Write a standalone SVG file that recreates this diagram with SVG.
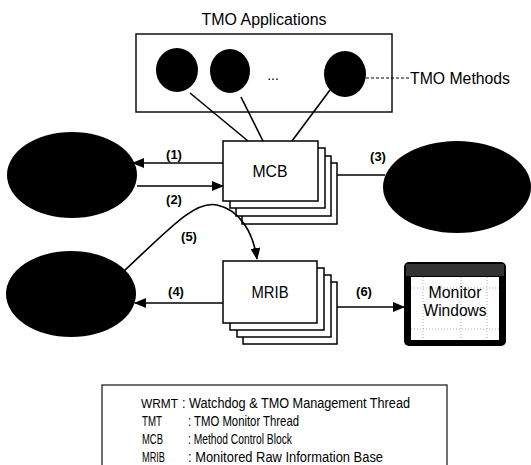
<svg xmlns="http://www.w3.org/2000/svg" width="531" height="465" viewBox="0 0 531 465">
<style>
text{font-family:"Liberation Sans",Arial,sans-serif;fill:#000}
.box{fill:#fff;stroke:#000;stroke-width:1.5}
.ln{fill:none;stroke:#000;stroke-width:1.6}
.lbl{font-size:13px;font-weight:bold}
.leg{font-size:14px}
.blob{fill:#000}
</style>
<defs>
<marker id="ah" markerUnits="userSpaceOnUse" markerWidth="12" markerHeight="10" refX="11" refY="5" orient="auto">
<path d="M0,0 L12,5 L0,10 Z" fill="#000"/>
</marker>
</defs>

<g id="title"><text x="264" y="25" font-size="16" text-anchor="middle" textLength="125" lengthAdjust="spacingAndGlyphs">TMO Applications</text></g>

<g id="tmo-apps">
<rect x="136" y="34" width="256" height="78" fill="#fff" stroke="#111" stroke-width="1.5"/>
<ellipse cx="177" cy="70" rx="21" ry="22" class="blob"/>
<ellipse cx="230" cy="71" rx="20" ry="22" class="blob"/>
<text x="273" y="80" font-size="14" text-anchor="middle">...</text>
<ellipse cx="345" cy="74" rx="21" ry="23" class="blob"/>
</g>

<g id="tmo-methods-label">
<line x1="366" y1="78" x2="409" y2="78" stroke="#000" stroke-width="1.2" stroke-dasharray="3,2"/>
<text x="410" y="84" font-size="16" textLength="100" lengthAdjust="spacingAndGlyphs">TMO Methods</text>
</g>

<g id="wrmt"><ellipse cx="72" cy="175" rx="65" ry="43" class="blob"/></g>
<g id="tmt"><ellipse cx="457" cy="187" rx="74" ry="46" class="blob"/></g>
<g id="client"><ellipse cx="71" cy="294" rx="65" ry="43" class="blob"/></g>

<g id="mcb">
<rect x="242" y="163" width="95" height="61" class="box"/>
<rect x="236" y="156" width="95" height="60" class="box"/>
<rect x="230" y="148" width="95" height="60" class="box"/>
<rect x="223" y="141" width="95" height="60" class="box"/>
<text x="270" y="177" font-size="16" text-anchor="middle" textLength="35" lengthAdjust="spacingAndGlyphs">MCB</text>
</g>

<g id="mrib">
<rect x="243" y="282" width="94" height="62" class="box"/>
<rect x="237" y="275" width="94" height="62" class="box"/>
<rect x="230" y="268" width="94" height="62" class="box"/>
<rect x="223" y="261" width="94" height="62" class="box"/>
<text x="270" y="298" font-size="16" text-anchor="middle" textLength="37" lengthAdjust="spacingAndGlyphs">MRIB</text>
</g>

<g id="monitor-windows">
<rect x="404" y="262" width="102" height="84" rx="5" fill="#000"/>
<rect x="406" y="264" width="98" height="12" fill="#333"/>
<rect x="411" y="277" width="88" height="63" fill="#fff"/>
<g stroke="#999" stroke-width="0.8" stroke-dasharray="1,2">
<line x1="423" y1="277" x2="423" y2="340"/>
<line x1="461" y1="277" x2="461" y2="340"/>
<line x1="487" y1="277" x2="487" y2="340"/>
<line x1="411" y1="288" x2="499" y2="288"/>
<line x1="411" y1="329" x2="499" y2="329"/>
</g>
<text x="455" y="298" font-size="17" text-anchor="middle" textLength="53" lengthAdjust="spacingAndGlyphs">Monitor</text>
<text x="455" y="316" font-size="17" text-anchor="middle" textLength="63" lengthAdjust="spacingAndGlyphs">Windows</text>
</g>

<g id="connectors">
<line x1="190" y1="93" x2="248" y2="141" class="ln"/>
<line x1="241" y1="97" x2="263" y2="141" class="ln"/>
<line x1="330" y1="90" x2="292" y2="141" class="ln"/>
<line x1="223" y1="163" x2="133" y2="163" class="ln" marker-end="url(#ah)"/>
<line x1="137" y1="186" x2="223" y2="186" class="ln" marker-end="url(#ah)"/>
<line x1="337" y1="175" x2="385" y2="175" class="ln"/>
<line x1="223" y1="303" x2="135" y2="303" class="ln" marker-end="url(#ah)"/>
<line x1="337" y1="307" x2="404" y2="307" class="ln" marker-end="url(#ah)"/>
<path d="M122,273 C170,228 195,200 217,205 C240,210 253,232 257,259" class="ln" marker-end="url(#ah)"/>
<text x="174" y="159" class="lbl" text-anchor="middle">(1)</text>
<text x="174" y="204" class="lbl" text-anchor="middle">(2)</text>
<text x="378" y="161" class="lbl" text-anchor="middle">(3)</text>
<text x="176" y="296" class="lbl" text-anchor="middle">(4)</text>
<text x="189" y="241" class="lbl" text-anchor="middle">(5)</text>
<text x="364" y="296" class="lbl" text-anchor="middle">(6)</text>
</g>

<g id="legend">
<rect x="102" y="385" width="345" height="100" fill="#fff" stroke="#111" stroke-width="1.2"/>
<text x="141" y="408" font-size="13" textLength="37" lengthAdjust="spacingAndGlyphs">WRMT</text>
<text x="182" y="408" class="leg" textLength="228" lengthAdjust="spacingAndGlyphs">: Watchdog &amp; TMO Management Thread</text>
<text x="142" y="426" class="leg" textLength="20" lengthAdjust="spacingAndGlyphs">TMT</text>
<text x="188" y="426" class="leg" textLength="111" lengthAdjust="spacingAndGlyphs">: TMO Monitor Thread</text>
<text x="142" y="444" class="leg" textLength="21" lengthAdjust="spacingAndGlyphs">MCB</text>
<text x="188" y="444" class="leg" textLength="104" lengthAdjust="spacingAndGlyphs">: Method Control Block</text>
<text x="142" y="462" class="leg" textLength="23" lengthAdjust="spacingAndGlyphs">MRIB</text>
<text x="188" y="462" class="leg" textLength="195" lengthAdjust="spacingAndGlyphs">: Monitored Raw Information Base</text>
</g>
</svg>
